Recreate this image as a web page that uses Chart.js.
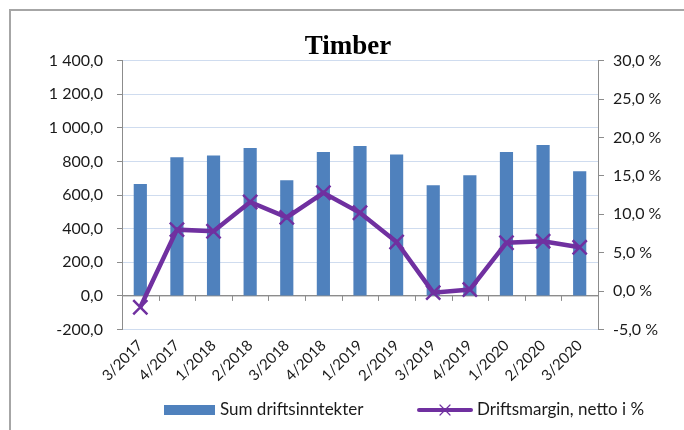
<!DOCTYPE html>
<html>
<head>
<meta charset="utf-8">
<script src="https://cdn.jsdelivr.net/npm/chart.js@4/dist/chart.umd.min.js"></script>
<style>
  body { margin: 0; background: #fff; }
  #wrap { position: relative; width: 684px; height: 430px; }
  #frame { position: absolute; left: 9px; top: 9px; width: 700px; height: 500px;
           border-top: 2px solid #a6a6a6; border-left: 2px solid #a6a6a6; pointer-events: none; }
</style>
</head>
<body>
<div id="wrap">
  <canvas id="chart" width="684" height="430"></canvas>
  <div id="frame"></div>
</div>
<script>
// values
const quarters = ["3/2017", "4/2017", "1/2018", "2/2018", "3/2018", "4/2018", "1/2019",
                  "2/2019", "3/2019", "4/2019", "1/2020", "2/2020", "3/2020"];
const revenue = [666, 825, 835, 880, 688, 857, 893, 841, 659, 718, 857, 898, 742];
const margin = [-2.1, 8.0, 7.8, 11.6, 9.6, 12.8, 10.2, 6.4, -0.2, 0.2, 6.3, 6.5, 5.7];
const revenueLabel = "Sum driftsinntekter";
const marginLabel = "Driftsmargin, netto i %";

const blue = "#4F81BD";
const purple = "#7030A0";
const axisGray = "#8c8c8c";
const gridBlue = "#cfdcef";
const font = "Lato";

function fmtNum(v) {
  let [i, d] = Math.abs(v).toFixed(1).split(".");
  i = i.replace(/\B(?=(\d{3})+(?!\d))/g, " ");
  return (v < 0 ? "-" : "") + i + "," + d;
}

// zero line of the category axis with its little tick marks
const zeroAxis = {
  id: "zeroAxis",
  beforeDatasetsDraw(chart) {
    const { ctx, chartArea, scales } = chart;
    const y0 = scales.y.getPixelForValue(0);
    ctx.save();
    ctx.strokeStyle = axisGray;
    ctx.lineWidth = 1;
    ctx.beginPath();
    ctx.moveTo(chartArea.left, y0);
    ctx.lineTo(chartArea.right, y0);
    for (let i = 0; i <= quarters.length; i++) {
      const x = Math.round(scales.x.getPixelForValue(i - 0.5)) + 0.5;
      ctx.moveTo(x, y0);
      ctx.lineTo(x, y0 + 5);
    }
    ctx.stroke();
    ctx.restore();
  }
};

// legend drawn like the spreadsheet one
const sheetLegend = {
  id: "sheetLegend",
  afterDraw(chart) {
    const { ctx } = chart;
    const y = 410;
    ctx.save();
    ctx.font = "17px " + font;
    ctx.textBaseline = "middle";
    ctx.fillStyle = blue;
    ctx.fillRect(164, y - 5, 51, 10);
    ctx.fillStyle = "#1a1a1a";
    ctx.fillText(revenueLabel, 220, y);
    ctx.strokeStyle = purple;
    ctx.lineWidth = 4;
    ctx.lineCap = "round";
    ctx.beginPath();
    ctx.moveTo(419, y);
    ctx.lineTo(471, y);
    ctx.stroke();
    ctx.lineWidth = 1.2;
    ctx.beginPath();
    ctx.moveTo(440, y - 5); ctx.lineTo(450, y + 5);
    ctx.moveTo(440, y + 5); ctx.lineTo(450, y - 5);
    ctx.stroke();
    ctx.fillStyle = "#1a1a1a";
    ctx.fillText(marginLabel, 477, y);
    ctx.restore();
  }
};

new Chart(document.getElementById("chart").getContext("2d"), {
  data: {
    labels: quarters,
    datasets: [
      {
        type: "line",
        label: marginLabel,
        data: margin,
        yAxisID: "y2",
        borderColor: purple,
        backgroundColor: purple,
        borderWidth: 4.5,
        pointStyle: "crossRot",
        pointRadius: 10,
        pointBorderWidth: 2.5,
        pointBorderColor: purple,
        tension: 0,
        order: 0
      },
      {
        type: "bar",
        label: revenueLabel,
        data: revenue,
        yAxisID: "y",
        backgroundColor: blue,
        categoryPercentage: 1,
        barPercentage: 0.36,
        order: 1
      }
    ]
  },
  options: {
    responsive: false,
    animation: false,
    layout: { padding: { left: 12, right: 0, top: 0, bottom: 38.5 } },
    plugins: {
      legend: { display: false },
      tooltip: { enabled: false },
      title: {
        display: true,
        text: "Timber",
        color: "#000",
        font: { family: "Liberation Serif", size: 27, weight: "bold", lineHeight: 1 },
        padding: { top: 33.5, bottom: 0.2 }
      }
    },
    scales: {
      x: {
        grid: { display: false, drawTicks: false },
        border: { display: false },
        ticks: { color: "#1a1a1a", font: { family: font, size: 15 }, minRotation: 45, maxRotation: 45, padding: 7 },
        afterFit(scale) { scale.height = 62; }
      },
      y: {
        position: "left",
        min: -200,
        max: 1400,
        ticks: { stepSize: 200, color: "#1a1a1a", font: { family: font, size: 16 }, padding: 14,
                 callback: v => fmtNum(v) },
        grid: {
          color: ctx => ctx.tick && ctx.tick.value === 0 ? axisGray : gridBlue,
          tickColor: axisGray,
          tickLength: 5
        },
        border: { color: axisGray },
        afterFit(scale) { scale.width = 110; }
      },
      y2: {
        position: "right",
        min: -5,
        max: 30,
        ticks: { stepSize: 5, color: "#1a1a1a", font: { family: font, size: 16 }, padding: 9,
                 callback: v => v.toFixed(1).replace(".", ",") + " %" },
        grid: { drawOnChartArea: false, tickColor: axisGray, tickLength: 6 },
        border: { color: axisGray },
        afterFit(scale) { scale.width = 86; }
      }
    }
  },
  plugins: [zeroAxis, sheetLegend]
});
</script>
</body>
</html>
